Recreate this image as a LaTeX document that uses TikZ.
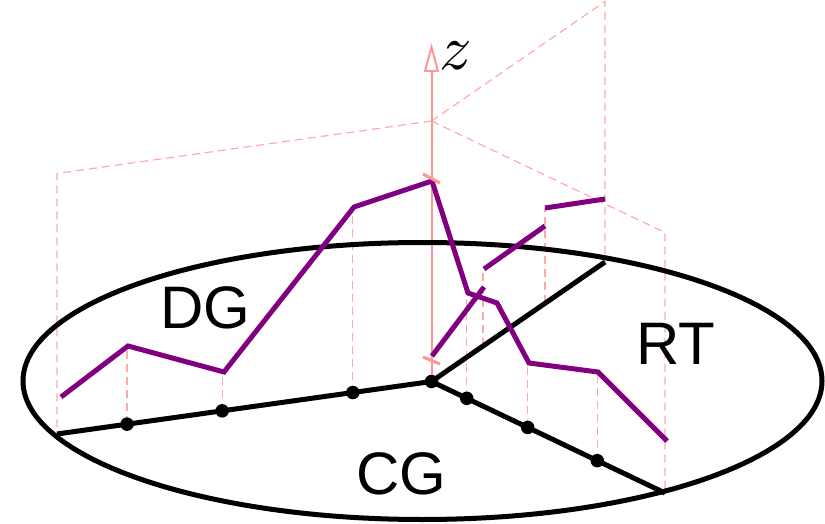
\documentclass[tikz,border=0pt]{standalone}
\usepackage{fontspec}
\setmainfont{Liberation Sans}
\usetikzlibrary{arrows.meta,calc}
\definecolor{pathviolet}{RGB}{128,0,128}
\definecolor{guidepink}{RGB}{255,170,170}
\definecolor{axispink}{RGB}{255,150,150}
\begin{document}
\begin{tikzpicture}[x=1pt,y=-1pt,
  branch/.style={line width=5pt,black,line join=round},
  profile/.style={line width=5pt,pathviolet},
  guide/.style={line width=1.2pt,guidepink,dash pattern=on 8pt off 5pt},
  tickmark/.style={line width=3pt,axispink},
  junction/.style={circle,fill=black,inner sep=0pt,minimum size=13.5pt},
  region/.style={font=\fontsize{60}{60}\selectfont,inner sep=0pt,anchor=base}
]
\useasboundingbox (0,0) rectangle (825,524);
% key points
\coordinate (O) at (431.5,381.5);
\coordinate (L) at (57,434);
\coordinate (E) at (665,493);
\coordinate (R) at (605,262);
\coordinate (T) at (431.5,121);
\coordinate (TL) at (57,173.5);
\coordinate (TE) at (665,232.5);
\coordinate (TR) at (605,1.5);
\coordinate (Ztop) at (431.5,43);
% dots
\coordinate (d1) at ($(O)!0.813!(L)$);
\coordinate (d2) at ($(O)!0.559!(L)$);
\coordinate (d3) at ($(O)!0.210!(L)$);
\coordinate (c1) at ($(O)!0.151!(E)$);
\coordinate (c2) at ($(O)!0.412!(E)$);
\coordinate (c3) at ($(O)!0.710!(E)$);
\coordinate (r1) at ($(O)!0.297!(R)$);
\coordinate (r2) at ($(O)!0.654!(R)$);
% DG profile
\coordinate (P1) at (61,397);
\coordinate (P2) at (128,346);
\coordinate (P3) at (224,372);
\coordinate (P4) at (354,207);
\coordinate (P5) at (432,181);
% CG profile
\coordinate (C1) at (468,293);
\coordinate (C2) at (497,303);
\coordinate (C3) at (529,363);
\coordinate (C4) at (598,372);
\coordinate (C5) at (667,441);
% RT profile
\coordinate (R0) at (432,356);
\coordinate (R1) at (484,287);
\coordinate (R1b) at (484,269);
\coordinate (R2) at (545,226);
\coordinate (R2b) at (545,208);
\coordinate (R3) at (605,199);

% guide walls
\draw[guide] (T) -- (TL) -- (L);
\draw[guide] (T) -- (TE) -- (E);
\draw[guide] (T) -- (TR) -- (R);
\draw[guide] (d1) -- (d1 |- P2);
\draw[guide] (d2) -- (d2 |- P3);
\draw[guide] (d3) -- (d3 |- P4);
\draw[guide] (c1) -- (c1 |- C1);
\draw[guide] (c2) -- (c2 |- C3);
\draw[guide] (c3) -- (c3 |- C4);
\draw[guide] (r1) -- (r1 |- R1b);
\draw[guide] (r2) -- (r2 |- R2b);

% z axis
\draw[line width=2pt,axispink,-{Triangle[open,length=29pt,width=15pt]}] (O) -- (Ztop);
\node[inner sep=0pt,scale=6.4] (zlab) at (455.5,56) {$z$};

% ellipse and branches
\draw[line width=5pt] (422.5,381) ellipse [x radius=399.5, y radius=138.5];
\draw[branch] (L) -- (O) -- (R);
\draw[branch] (O) -- (E);
\foreach \p in {d1,d2,d3,O,c1,c2,c3} \node[junction] at (\p) {};

% profiles
\draw[profile] (P1) -- (P2) -- (P3) -- (P4) -- (P5) -- (C1) -- (C2) -- (C3) -- (C4) -- (C5);
\draw[profile] (R0) -- (R1);
\draw[profile] (R1b) -- (R2);
\draw[profile] (R2b) -- (R3);

% ticks on axis
\draw[tickmark] (423,174) -- (440,183);
\draw[tickmark] (423,357) -- (440,364);

% labels
\node[region] (DG) at (205,328) {DG};
\node[region] (RT) at (676,364) {RT};
\node[region] (CG) at (401,494) {CG};
\end{tikzpicture}
\end{document}
